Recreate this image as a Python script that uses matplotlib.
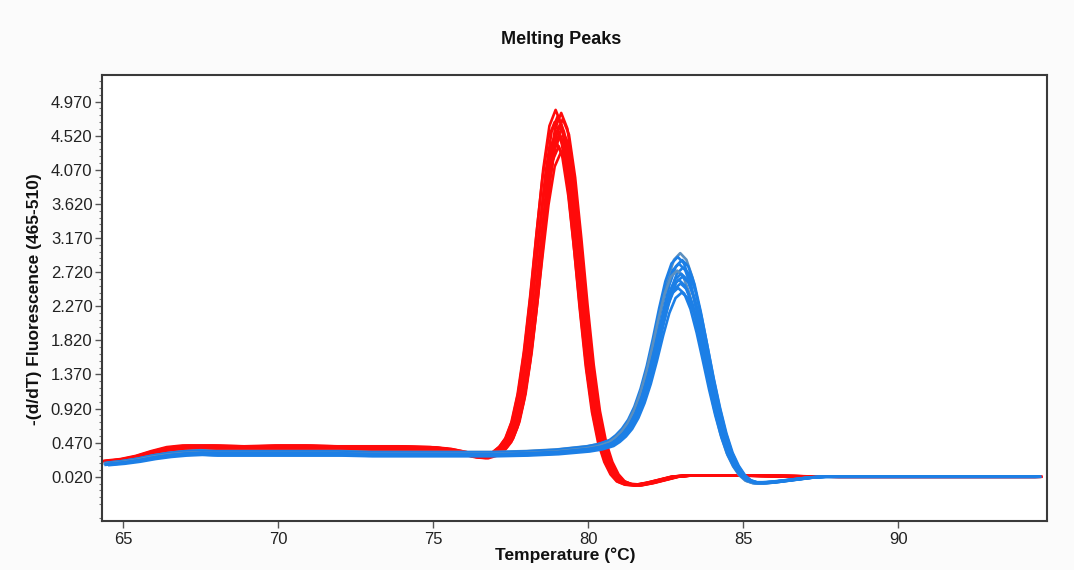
import numpy as np
import matplotlib
matplotlib.use("Agg")
import matplotlib.pyplot as plt
from matplotlib.ticker import FixedLocator, FormatStrFormatter

plt.rcParams['font.family'] = ['Liberation Sans', 'DejaVu Sans']

# typical melt derivative trace for each product (temperature in deg C)
red_temp = [64.5, 65.0, 65.5, 66.0, 66.5, 67.0, 68.0, 69.0, 70.0, 71.0, 72.0, 73.0,
            74.0, 75.0, 75.5, 76.0, 76.4, 76.7, 77.0, 77.25, 77.45, 77.65, 77.85,
            78.05, 78.25, 78.45, 78.65, 78.85, 79.05, 79.25, 79.45, 79.65, 79.85,
            80.05, 80.25, 80.45, 80.65, 80.85, 81.05, 81.3, 81.6, 82.0, 82.4, 82.8,
            83.2, 84.0, 85.0, 86.0, 87.0, 88.0, 90.0, 92.0, 94.5]
red_vals = [0.22, 0.24, 0.28, 0.34, 0.39, 0.41, 0.41, 0.40, 0.41, 0.41, 0.40, 0.40,
            0.40, 0.39, 0.37, 0.33, 0.29, 0.28, 0.32, 0.40, 0.51, 0.72, 1.08,
            1.62, 2.32, 3.11, 3.86, 4.40, 4.60, 4.40, 3.85, 3.07, 2.22,
            1.45, 0.86, 0.46, 0.21, 0.05, -0.04, -0.08, -0.09, -0.06, -0.02, 0.02,
            0.035, 0.035, 0.035, 0.03, 0.025, 0.02, 0.02, 0.02, 0.02]

blue_temp = [64.5, 65.0, 65.5, 66.0, 66.5, 67.0, 67.5, 68.0, 70.0, 72.0, 73.0, 75.0,
             77.0, 78.0, 79.0, 79.5, 80.0, 80.4, 80.77, 80.97, 81.17, 81.37, 81.57,
             81.77, 81.97, 82.17, 82.37, 82.57, 82.77, 82.97, 83.17, 83.37, 83.57,
             83.77, 83.97, 84.17, 84.37, 84.57, 84.77, 84.97, 85.17, 85.4, 85.7,
             86.0, 86.4, 86.8, 87.2, 87.6, 88.0, 90.0, 92.0, 94.5]
blue_vals = [0.19, 0.21, 0.24, 0.28, 0.31, 0.33, 0.34, 0.33, 0.33, 0.33, 0.32, 0.32,
             0.32, 0.33, 0.35, 0.37, 0.39, 0.42, 0.47, 0.53, 0.61, 0.72, 0.88,
             1.10, 1.38, 1.72, 2.09, 2.42, 2.64, 2.72, 2.64, 2.42, 2.08,
             1.68, 1.27, 0.90, 0.58, 0.33, 0.16, 0.04, -0.03, -0.06, -0.06,
             -0.05, -0.03, -0.01, 0.01, 0.02, 0.02, 0.02, 0.02, 0.02]

# per-sample peak heights and peak position offsets
red_peaks = [4.86, 4.82, 4.78, 4.74, 4.70, 4.66, 4.62, 4.58, 4.52, 4.45, 4.38, 4.30]
red_shift = [-0.10, 0.08, -0.03, 0.13, -0.13, 0.03, 0.10, -0.06, 0.05, -0.09, 0.00, 0.07]
blue_peaks = [2.97, 2.92, 2.88, 2.83, 2.78, 2.74, 2.70, 2.66, 2.62, 2.57, 2.51, 2.45]
blue_shift = [0.00, -0.08, 0.06, -0.04, 0.09, -0.10, 0.03, 0.07, -0.05, 0.01, -0.07, 0.05]
blue_colors = ['#5b8fbf', '#1c7fe6', '#1c7fe6', '#1c7fe6', '#1c7fe6', '#5b8fbf',
               '#1c7fe6', '#1c7fe6', '#1c7fe6', '#1c7fe6', '#1c7fe6', '#1c7fe6']

y_ticks = [0.020, 0.470, 0.920, 1.370, 1.820, 2.270, 2.720, 3.170, 3.620, 4.070, 4.520, 4.970]
x_ticks = [65, 70, 75, 80, 85, 90]

FLOOR = 0.02

fig = plt.figure(figsize=(10.74, 5.70), dpi=100, facecolor='#fbfbfb')
ax = fig.add_axes([0.0946, 0.0865, 0.8807, 0.7819])
ax.set_facecolor('white')


def draw_group(temps, vals, peaks, shifts, colors):
    t = np.array(temps)
    v = np.array(vals)
    top = v.max()
    for h, dx, c in zip(peaks, shifts, colors):
        k = (h - FLOOR) / (top - FLOOR)
        ax.plot(t + dx, FLOOR + (v - FLOOR) * k, color=c, lw=1.9,
                solid_joinstyle='round')


draw_group(red_temp, red_vals, red_peaks, red_shift, ['#ff0a0a'] * len(red_peaks))
draw_group(blue_temp, blue_vals, blue_peaks, blue_shift, blue_colors)

ax.set_xlim(64.3, 94.82)
ax.set_ylim(-0.56, 5.32)

ax.xaxis.set_major_locator(FixedLocator(x_ticks))
ax.yaxis.set_major_locator(FixedLocator(y_ticks))
ax.yaxis.set_major_formatter(FormatStrFormatter('%.3f'))
ax.yaxis.set_minor_locator(FixedLocator(
    [y_ticks[0] + 0.09 * i for i in range(-6, 62) if i % 5 != 0]))

ax.tick_params(axis='both', which='major', direction='out', length=5, width=1,
               color='#555555', labelsize=12, labelcolor='#222222')
ax.tick_params(axis='y', which='major', pad=1.5)
ax.tick_params(axis='x', which='major', pad=3)
ax.tick_params(axis='y', which='minor', direction='out', length=2.5, width=0.8,
               color='#777777')

for sp in ax.spines.values():
    sp.set_color('#3a3a3a')
    sp.set_linewidth(1.5)

fig.text(0.522, 0.93, 'Melting Peaks', ha='center', va='center',
         fontsize=13, fontweight='bold', color='#111111')
fig.text(0.526, 0.026, 'Temperature (°C)', ha='center', va='center',
         fontsize=12.5, fontweight='bold', color='#111111')
fig.text(0.032, 0.475, '-(d/dT) Fluorescence (465-510)', ha='center', va='center',
         rotation=90, fontsize=12.5, fontweight='bold', color='#111111')

fig.savefig('out.png', dpi=100, facecolor=fig.get_facecolor())
